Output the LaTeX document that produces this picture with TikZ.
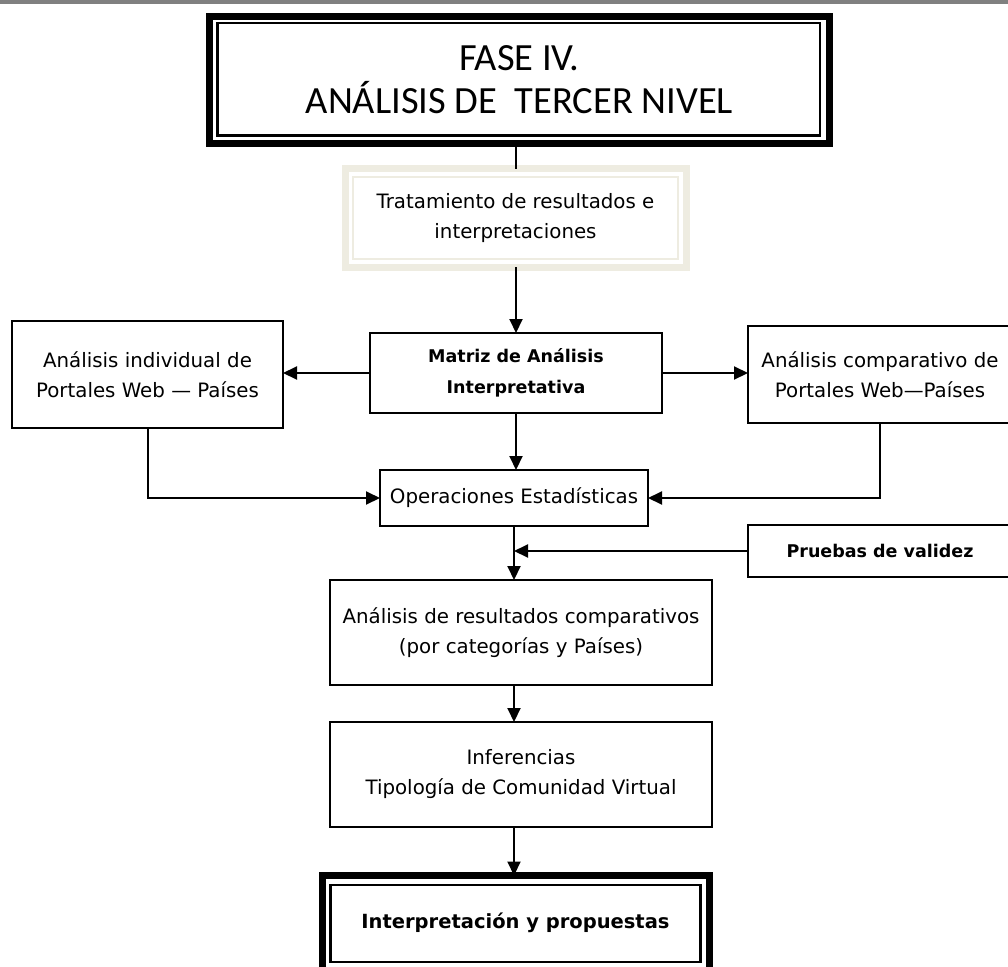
\documentclass[tikz,border=0pt]{standalone}
\usepackage{fontspec}
\setmainfont{DejaVu Sans}
\newfontfamily\titlefont{Carlito}
\usetikzlibrary{arrows.meta}
\definecolor{framebeige}{HTML}{EEECE1}
\definecolor{topbar}{HTML}{808080}

\begin{document}
\begin{tikzpicture}[x=1pt, y=-1pt, >={Triangle[length=14pt,width=13pt]},
  line width=2pt, outer sep=0pt,
  box/.style={draw, align=center, inner sep=0pt, font=\fontsize{19.8}{30}\selectfont},
  boldbox/.style={box, font=\fontsize{17.5}{31}\selectfont\bfseries},
  heavybox/.style={draw, line width=7pt, align=center, inner sep=0pt}]
  \useasboundingbox (0,0) rectangle (1008,966);
  \fill[topbar] (0,0) rectangle (1008,4.5);
  % title and first step
  \node[heavybox, minimum width=620pt, minimum height=127.5pt,
    font=\titlefont\fontsize{38.5}{43}\selectfont] (fase) at (519.5,80) {FASE IV.\\ANÁLISIS DE \ TERCER NIVEL};
  \draw[line width=2.5pt] ([shift={(8,7)}]fase.north west) rectangle ([shift={(-9.5,-8.5)}]fase.south east);
  \node[box, draw=framebeige, line width=7pt, minimum width=341pt, minimum height=98.5pt] (trat) at (515.5,218) {Tratamiento de resultados e\\interpretaciones};
  \draw[framebeige] ([shift={(8,8)}]trat.north west) rectangle ([shift={(-8,-8)}]trat.south east);
  % analysis row
  \node[boldbox, minimum width=292pt, minimum height=80pt] (matriz) at (516,373) {Matriz de Análisis\\Interpretativa};
  \node[box, minimum width=271pt, minimum height=107pt] (indiv) at (147.5,374.5) {Análisis individual de\\Portales Web — Países};
  \node[box, minimum width=264pt, minimum height=97pt] (comp) at (880,374.5) {Análisis comparativo de\\Portales Web—Países};
  \node[box, minimum width=268pt, minimum height=56pt] (oper) at (514,498) {Operaciones Estadísticas};
  \node[boldbox, minimum width=264pt, minimum height=52pt] (prueba) at (880,551) {Pruebas de validez};
  % results
  \node[box, minimum width=382pt, minimum height=105pt] (res) at (521,632.5) {Análisis de resultados comparativos\\(por categorías y Países)};
  \node[box, minimum width=382pt, minimum height=105pt] (infer) at (521,774.5) {Inferencias\\Tipología de Comunidad Virtual};
  \node[heavybox, minimum width=387pt, minimum height=95pt,
    font=\fontsize{19.5}{30}\selectfont\bfseries] (final) at (515.5,923) {Interpretación y propuestas};
  \draw[line width=2.5pt] ([shift={(8.5,9.5)}]final.north west) rectangle ([shift={(-8.5,-8.5)}]final.south east);
  % connectors
  \draw (trat.north) -- (trat.north |- fase.south);
  \draw[->] (matriz.north |- trat.south) -- (matriz.north);
  \draw[->] (matriz.west) -- (matriz.west -| indiv.east);
  \draw[->] (matriz.east) -- (matriz.east -| comp.west);
  \draw[->] (matriz.south) -- (matriz.south |- oper.north);
  \draw[->] (indiv.south) |- (oper.west);
  \draw[->] (comp.south) |- (oper.east);
  \draw[->] (oper.south) -- (oper.south |- res.north);
  \draw[->] (prueba.west) -- (prueba.west -| oper.south);
  \draw[->] (res.south -| oper.south) -- (infer.north -| oper.south);
  \draw[->] (infer.south -| oper.south) -- (final.north -| oper.south);
\end{tikzpicture}
\end{document}
